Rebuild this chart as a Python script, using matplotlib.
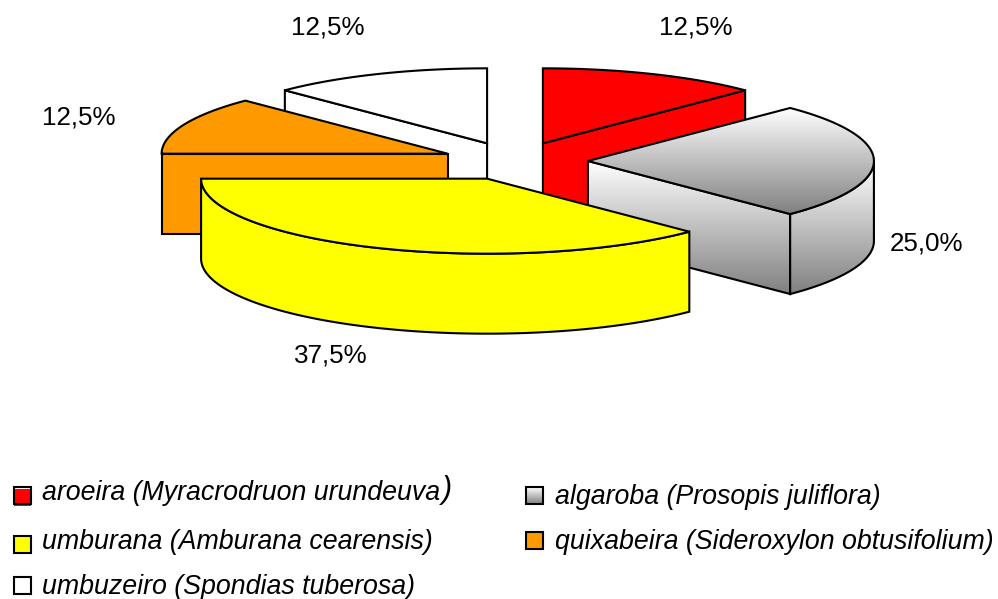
"""
exploded 3d pie chart of tree species
"""

import numpy as np
import matplotlib.pyplot as plt
from matplotlib.patches import Polygon, Rectangle

plt.rcParams["font.family"] = ["Liberation Sans", "DejaVu Sans"]

# clockwise from 12 o'clock
species = [
    "aroeira (Myracrodruon urundeuva",
    "algaroba (Prosopis juliflora)",
    "umburana (Amburana cearensis)",
    "quixabeira (Sideroxylon obtusifolium)",
    "umbuzeiro (Spondias tuberosa)",
]
shares = [12.5, 25.0, 37.5, 12.5, 12.5]
colors = ["#ff0000", "gradient", "#ffff00", "#ff9900", "#ffffff"]

# pie geometry in pixels
CX, CY = 515, 161
RX, RY = 286, 75
DEPTH = 80
EXPLODE = 0.255

# where the percent labels and legend rows go
label_pos = [(659, 35), (890, 250), (294, 362), (42, 125), (291, 35)]
legend_pos = [(14, 487, 500), (526, 487, 504), (14, 536, 549), (526, 532, 549), (14, 577, 594)]

GRAD = plt.cm.colors.LinearSegmentedColormap.from_list("g", ["#ffffff", "#808080"])


def face(ax, pts, color):
    if color == "gradient":
        pts = np.array(pts)
        poly = Polygon(pts, closed=True, facecolor="none", edgecolor="black", lw=1.5, joinstyle="miter", zorder=ax.z + 1)
        ax.add_patch(poly)
        im = ax.imshow(
            np.linspace(0, 1, 256).reshape(-1, 1),
            cmap=GRAD,
            extent=(pts[:, 0].min(), pts[:, 0].max(), pts[:, 1].max(), pts[:, 1].min()),
            aspect="auto",
            zorder=ax.z,
        )
        im.set_clip_path(poly)
    else:
        ax.add_patch(Polygon(pts, closed=True, facecolor=color, edgecolor="black", lw=1.5, joinstyle="miter", zorder=ax.z))
    ax.z += 2


fig = plt.figure(figsize=(9.98, 5.99), dpi=100)
ax = fig.add_axes([0, 0, 1, 1])
ax.z = 2

# angles of each slice, counter-clockwise in degrees
ends = 90 - np.cumsum([0] + shares[:-1]) * 3.6
starts = ends - np.array(shares) * 3.6

slices = []
for i in range(len(shares)):
    mid = np.radians((starts[i] + ends[i]) / 2)
    x0 = CX + EXPLODE * RX * np.cos(mid)
    y0 = CY - EXPLODE * RY * np.sin(mid)
    slices.append((y0, x0, starts[i], ends[i], colors[i]))

# back slices first
for y0, x0, a1, a2, col in sorted(slices, key=lambda s: s[0]):
    t = np.radians(np.linspace(a1, a2, 120))
    ax_x = x0 + RX * np.cos(t)
    ax_y = y0 - RY * np.sin(t)
    arc = list(zip(ax_x, ax_y))

    # cut faces that look at the viewer
    for a, show in ((a1, np.cos(np.radians(a1)) > 1e-6), (a2, np.cos(np.radians(a2)) < -1e-6)):
        if show:
            px = x0 + RX * np.cos(np.radians(a))
            py = y0 - RY * np.sin(np.radians(a))
            face(ax, [(x0, y0), (px, py), (px, py + DEPTH), (x0, y0 + DEPTH)], col)

    # outer wall, only the part below the horizontal
    wall = t[np.sin(t) <= 0]
    if len(wall) > 1:
        wx = x0 + RX * np.cos(wall)
        wy = y0 - RY * np.sin(wall)
        face(ax, list(zip(wx, wy)) + list(zip(wx[::-1], wy[::-1] + DEPTH)), col)

    face(ax, [(x0, y0)] + arc, col)

# percent labels
for (lx, ly), v in zip(label_pos, shares):
    ax.text(lx, ly, f"{v:.1f}%".replace(".", ","), fontsize=18.7, va="baseline", ha="left", color="black", zorder=200)

# legend
for (bx, by, base), name, col in zip(legend_pos, species, colors):
    if col == "gradient":
        box = Rectangle((bx, by), 17, 17, facecolor="none", edgecolor="black", lw=1.5, zorder=101)
        ax.add_patch(box)
        im = ax.imshow(np.linspace(0, 1, 64).reshape(-1, 1), cmap=GRAD, extent=(bx, bx + 17, by + 17, by), aspect="auto", zorder=100)
        im.set_clip_path(box)
    elif col == "#ff0000":
        # the red key sits a little low inside its outline
        ax.add_patch(Rectangle((bx, by + 2), 17, 17, facecolor=col, edgecolor="none", zorder=100))
        ax.add_patch(Rectangle((bx, by), 17, 17, facecolor="none", edgecolor="black", lw=1.5, zorder=101))
    else:
        ax.add_patch(Rectangle((bx, by), 17, 17, facecolor=col, edgecolor="black", lw=1.5, zorder=100))
    ax.text(bx + 28 + (1 if bx > 100 else 0), base, name, fontsize=19.25, style="italic", va="baseline", ha="left", zorder=200)

# the closing bracket of the first row is set bigger in the source
ax.text(442, 498, ")", fontsize=22, style="italic", va="baseline", ha="left", zorder=200)

ax.set_xlim(0, 998)
ax.set_ylim(599, 0)
ax.axis("off")

fig.savefig("out.png", dpi=100)
